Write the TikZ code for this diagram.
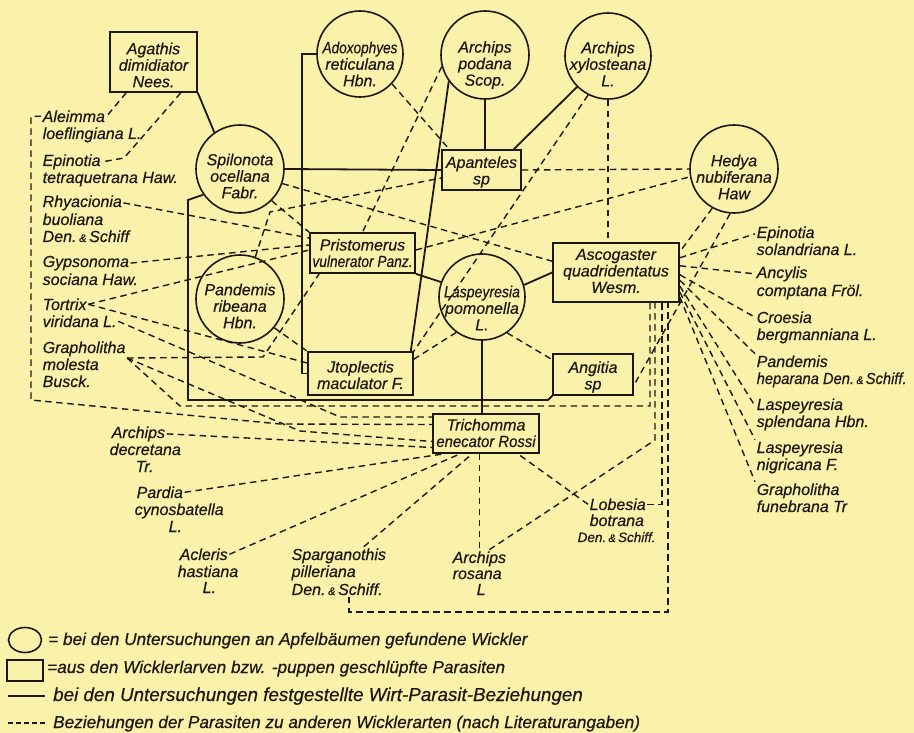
\documentclass[tikz,border=0pt]{standalone}
\usepackage{fontspec}
\usepackage{graphicx}
\newfontfamily\lbf[FakeBold=0.5]{Liberation Sans}
\newcommand\nodefont{\lbf\itshape\fontsize{16}{16.5}\selectfont}
\newcommand\legfont{\lbf\itshape\fontsize{17.2}{18}\selectfont}
\newcommand\smamp{\,{\fontsize{11}{11}\selectfont\&}\,}
\newcommand\sq[2]{\scalebox{#1}[1]{#2}}
\definecolor{paper}{RGB}{250,242,170}
\definecolor{inkc}{RGB}{28,24,20}
\begin{document}
\begin{tikzpicture}[x=1pt,y=-1pt,
  host/.style={circle, draw=inkc, line width=1.6pt, minimum size=#1, inner sep=0pt},
  host/.default=88pt,
  para/.style 2 args={rectangle, draw=inkc, line width=1.6pt, minimum width=#1, minimum height=#2, inner sep=0pt},
  lbl/.style={font=\nodefont, align=center, inner sep=0pt, text=inkc},
  tx/.style={font=\nodefont, inner sep=1.5pt, anchor=base west, text=inkc},
  legt/.style={font=\legfont, inner sep=0pt, anchor=base west, text=inkc},
  rel/.style={draw=inkc, line width=1.8pt},
  dep/.style={draw=inkc, line width=1.4pt, dash pattern=on 6.5pt off 4.5pt},
]
\fill[paper] (0,0) rectangle (914,733);
\useasboundingbox (0,0) rectangle (914,733);

% hosts (circles)
\node[host] (spil) at (240,169) {};
\node[host=86pt] (adox) at (360,54) {};
\node[host] (podana) at (485,55) {};
\node[host=86pt] (xylo) at (608,56) {};
\node[host] (hedya) at (734,169) {};
\node[host] (pand) at (240,299) {};
\node[host=86pt] (lasp) at (482,297) {};

% parasites (boxes)
\node[para={87pt}{60pt}] (agath) at (153.5,62) {};
\node[para={79pt}{40pt}] (apant) at (481.5,170) {};
\node[para={105pt}{40pt}] (prist) at (362.5,253) {};
\node[para={126pt}{59pt}] (ascog) at (616,272.5) {};
\node[para={105pt}{43pt}] (jtopl) at (360.5,373.5) {};
\node[para={80pt}{41pt}] (angit) at (593,374.5) {};
\node[para={106pt}{39pt}] (trich) at (486,433.5) {};

% labels
\node[lbl] (t-spil) at (240,176) {Spilonota\\ocellana\\Fabr.};
\node[lbl] (t-adox) at (360,64) {\sq{0.85}{Adoxophyes}\\reticulana\\Hbn.};
\node[lbl] (t-podana) at (485,65) {Archips\\podana\\Scop.};
\node[lbl] (t-xylo) at (608,64) {Archips\\xylosteana\\L.};
\node[lbl] (t-hedya) at (734,177) {Hedya\\nubiferana\\Haw};
\node[lbl] (t-pand) at (240,306) {Pandemis\\ribeana\\Hbn.};
\node[lbl] (t-lasp) at (482,308) {\sq{0.88}{Laspeyresia}\\pomonella\\L.};
\node[lbl] (t-agath) at (153.5,65) {Agathis\\dimidiator\\Nees.};
\node[lbl] (t-apant) at (481.5,172) {Apanteles\\sp};
\node[lbl] (t-prist) at (362.5,253) {Pristomerus\\\sq{0.86}{vulnerator Panz.}};
\node[lbl] (t-ascog) at (616,271) {Ascogaster\\quadridentatus\\Wesm.};
\node[lbl] (t-jtopl) at (360.5,375) {Jtoplectis\\maculator F.};
\node[lbl] (t-angit) at (593,377) {Angitia\\sp};
\node[lbl] (t-trich) at (486,433) {Trichomma\\\sq{0.93}{enecator Rossi}};

% free texts left
\node[tx] (aleimA) at (41,122) {Aleimma};
\node[tx] (aleimB) at (41,139) {loeflingiana L.};
\node[tx] (epinA) at (41,166) {Epinotia};
\node[tx] (epinB) at (41,183) {tetraquetrana Haw.};
\node[tx] (rhyaA) at (41,207) {Rhyacionia};
\node[tx] (rhyaB) at (41,225) {buoliana};
\node[tx] (rhyaC) at (41,242) {Den.\smamp Schiff};
\node[tx] (gypsA) at (41,267) {Gypsonoma};
\node[tx] (gypsB) at (41,285) {sociana Haw.};
\node[tx] (tortA) at (41,310) {Tortrix};
\node[tx] (tortB) at (41,327) {viridana L.};
\node[tx] (grapA) at (41,353) {Grapholitha};
\node[tx] (grapB) at (41,370) {molesta};
\node[tx] (grapC) at (41,387) {Busck.};

% free texts bottom
\node[tx] (archdA) at (110,438) {Archips};
\node[tx] (archdB) at (108,455) {decretana};
\node[tx] (archdC) at (134,472) {Tr.};
\node[tx] (pardA) at (135,498) {Pardia};
\node[tx] (pardB) at (133,515) {cynosbatella};
\node[tx] (pardC) at (167,532) {L.};
\node[tx] (acleA) at (178,560) {Acleris};
\node[tx] (acleB) at (176,577) {hastiana};
\node[tx] (acleC) at (201,593) {L.};
\node[tx] (spargA) at (290,560) {Sparganothis};
\node[tx] (spargB) at (290,577) {pilleriana};
\node[tx] (spargC) at (290,595) {Den.\smamp Schiff.};
\node[tx] (arosA) at (451,563) {Archips};
\node[tx] (arosB) at (451,579) {rosana};
\node[tx] (arosC) at (475,595) {L};
\node[tx] (lobA) at (588,510) {Lobesia};
\node[tx] (lobB) at (588,526) {botrana};
\node[tx, font=\lbf\itshape\fontsize{13.5}{14}\selectfont] (lobC) at (576,542) {Den.\smamp Schiff.};

% free texts right
\node[tx] (epsolA) at (755,238) {Epinotia};
\node[tx] (epsolB) at (755,255) {solandriana L.};
\node[tx] (ancylA) at (755,278) {Ancylis};
\node[tx] (ancylB) at (755,296) {comptana Fröl.};
\node[tx] (croesA) at (755,323) {Croesia};
\node[tx] (croesB) at (755,340) {bergmanniana L.};
\node[tx] (pandhA) at (755,367) {Pandemis};
\node[tx] (pandhB) at (755,384) {\sq{0.92}{heparana Den.\smamp Schiff.}};
\node[tx] (lsplA) at (755,410) {Laspeyresia};
\node[tx] (lsplB) at (755,427) {splendana Hbn.};
\node[tx] (lnigA) at (755,453) {Laspeyresia};
\node[tx] (lnigB) at (755,470) {nigricana F.};
\node[tx] (gfunA) at (755,495) {Grapholitha};
\node[tx] (gfunB) at (755,512) {funebrana Tr};

% solid: host-parasite relations found
\draw[rel] (agath.south east) -- (spil.125);
\draw[rel] (spil.east) -- (apant.west);
\draw[rel] (spil.215) -- (188,200) -- (188,400) -- (548,400) -- (angit.south west);
\draw[rel] (adox.west) -| ([xshift=-5pt]jtopl.west) -- (jtopl.west);
\draw[rel] (podana.south) -- (podana.south |- apant.north);
\draw[rel] (xylo.225) -- ([xshift=-8pt]apant.north east);
\draw[rel] (podana.216) -- ([xshift=-3pt]jtopl.north east);
\draw[rel] (prist.south east) -- (lasp.160);
\draw[rel] (lasp.16) -- (ascog.west);
\draw[rel] (lasp.south) -- (lasp.south |- trich.north);

% dashed: literature relations
\draw[dep] ([xshift=17pt]agath.south west) -- (aleimA.east);
\draw[dep] ([xshift=-17pt]agath.south east) -- (124,158) -- (epinA.east);
\draw[dep] (aleimA.west) -| (31,400) -- (280,424) -- ([yshift=9pt]trich.west);
\draw[dep] (spil.-45) -- (prist.north west);
\draw[dep] (spil.-19) -- (ascog.170);
\draw[dep] (pand.70) -- (270,212) -- ([yshift=-8pt]apant.west);
\draw[dep] (pand.-40) -- (jtopl.north west);
\draw[dep] (podana.195) -- (prist.north);
\draw[dep] (adox.-43) -- ([xshift=8pt]apant.north west);
\draw[dep] (apant.east) -- (hedya.west);
\draw[dep] ([yshift=3pt]prist.east) -- (hedya.190);
\draw[dep] (xylo.south) -- (xylo.south |- ascog.north);
\draw[dep] (xylo.243) -- (jtopl.north east);
\draw[dep] (lasp.234) -- (jtopl.15);
\draw[dep] (lasp.-55) -- (angit.160);
\draw[dep] (hedya.241) -- (ascog.18);
\draw[dep] (hedya.265) -- (angit.-15);
\draw[dep] (rhyaA.east) -- ([yshift=15pt]prist.west);
\draw[dep] (gypsA.east) -- ([yshift=8pt]prist.west);
\draw[dep] (tortA.east) -- ([yshift=3pt]prist.west);
\draw[dep] (tortA.east) -- ([yshift=10.5pt]jtopl.west);
\draw[dep] (tortB.east) -- (340,417) -- ([yshift=16.5pt]trich.west);
\draw[dep] (grapA.south east) -- (263,357) -- ([xshift=10pt]prist.south west);
\draw[dep] (grapA.south east) -- (180,406) -| ([xshift=34pt]ascog.south);
\draw[dep] (grapA.south east) -- (300,431) -- ([yshift=-8pt]trich.west);
\draw[dep] (archdA.east) -- ([yshift=-14pt]trich.west);
\draw[dep] (pardA.east) -- ([xshift=12pt]trich.south west);
\draw[dep] (acleA.east) -- ([xshift=28pt]trich.south west);
\draw[dep] ([xshift=25pt]spargA.north) -- ([xshift=40pt]trich.south west);
\draw[dep] (lobA.west) -- ([xshift=-22pt]trich.south east);
\draw[dep] (arosA.north |- trich.south) -- (arosA.north);
\draw[dep] ([xshift=10pt]arosA.north) -- (655,440) -- ([xshift=39pt]ascog.south);
\draw[dep] (lobA.east) -| ([xshift=46pt]ascog.south);
\draw[dep] ([xshift=12pt]spargC.south) -- ([xshift=12pt,yshift=-15pt]spargC.south) -| ([xshift=52pt]ascog.south);
\draw[dep] (ascog.13) -- (epsolA.west);
\draw[dep] (ascog.6) -- (ancylA.west);
\draw[dep] (ascog.-2) -- (croesA.west);
\draw[dep] (ascog.-7) -- (pandhA.north west);
\draw[dep] (ascog.-12) -- (lsplA.west);
\draw[dep] (ascog.-17) -- (lnigA.north west);
\draw[dep] (ascog.-21) -- (gfunA.north west);

% legend
\draw[draw=inkc, line width=1.6pt] (25,640) ellipse [x radius=16.5pt, y radius=12.5pt];
\draw[draw=inkc, line width=1.6pt] (7,660) rectangle (43,681);
\draw[rel] (8,696) -- (45,696);
\draw[dep, dash pattern=on 5pt off 3pt] (8,723) -- (45,723);
\node[legt] (leg1) at (48,645) {= bei den Untersuchungen an Apfelbäumen gefundene Wickler};
\node[legt] (leg2) at (47,673) {=aus den Wicklerlarven bzw. -puppen geschlüpfte Parasiten};
\node[legt, font=\lbf\itshape\fontsize{18.8}{19}\selectfont] (leg3) at (53,701) {bei den Untersuchungen festgestellte Wirt-Parasit-Beziehungen};
\node[legt] (leg4) at (53,728) {Beziehungen der Parasiten zu anderen Wicklerarten (nach Literaturangaben)};
\end{tikzpicture}
\end{document}
